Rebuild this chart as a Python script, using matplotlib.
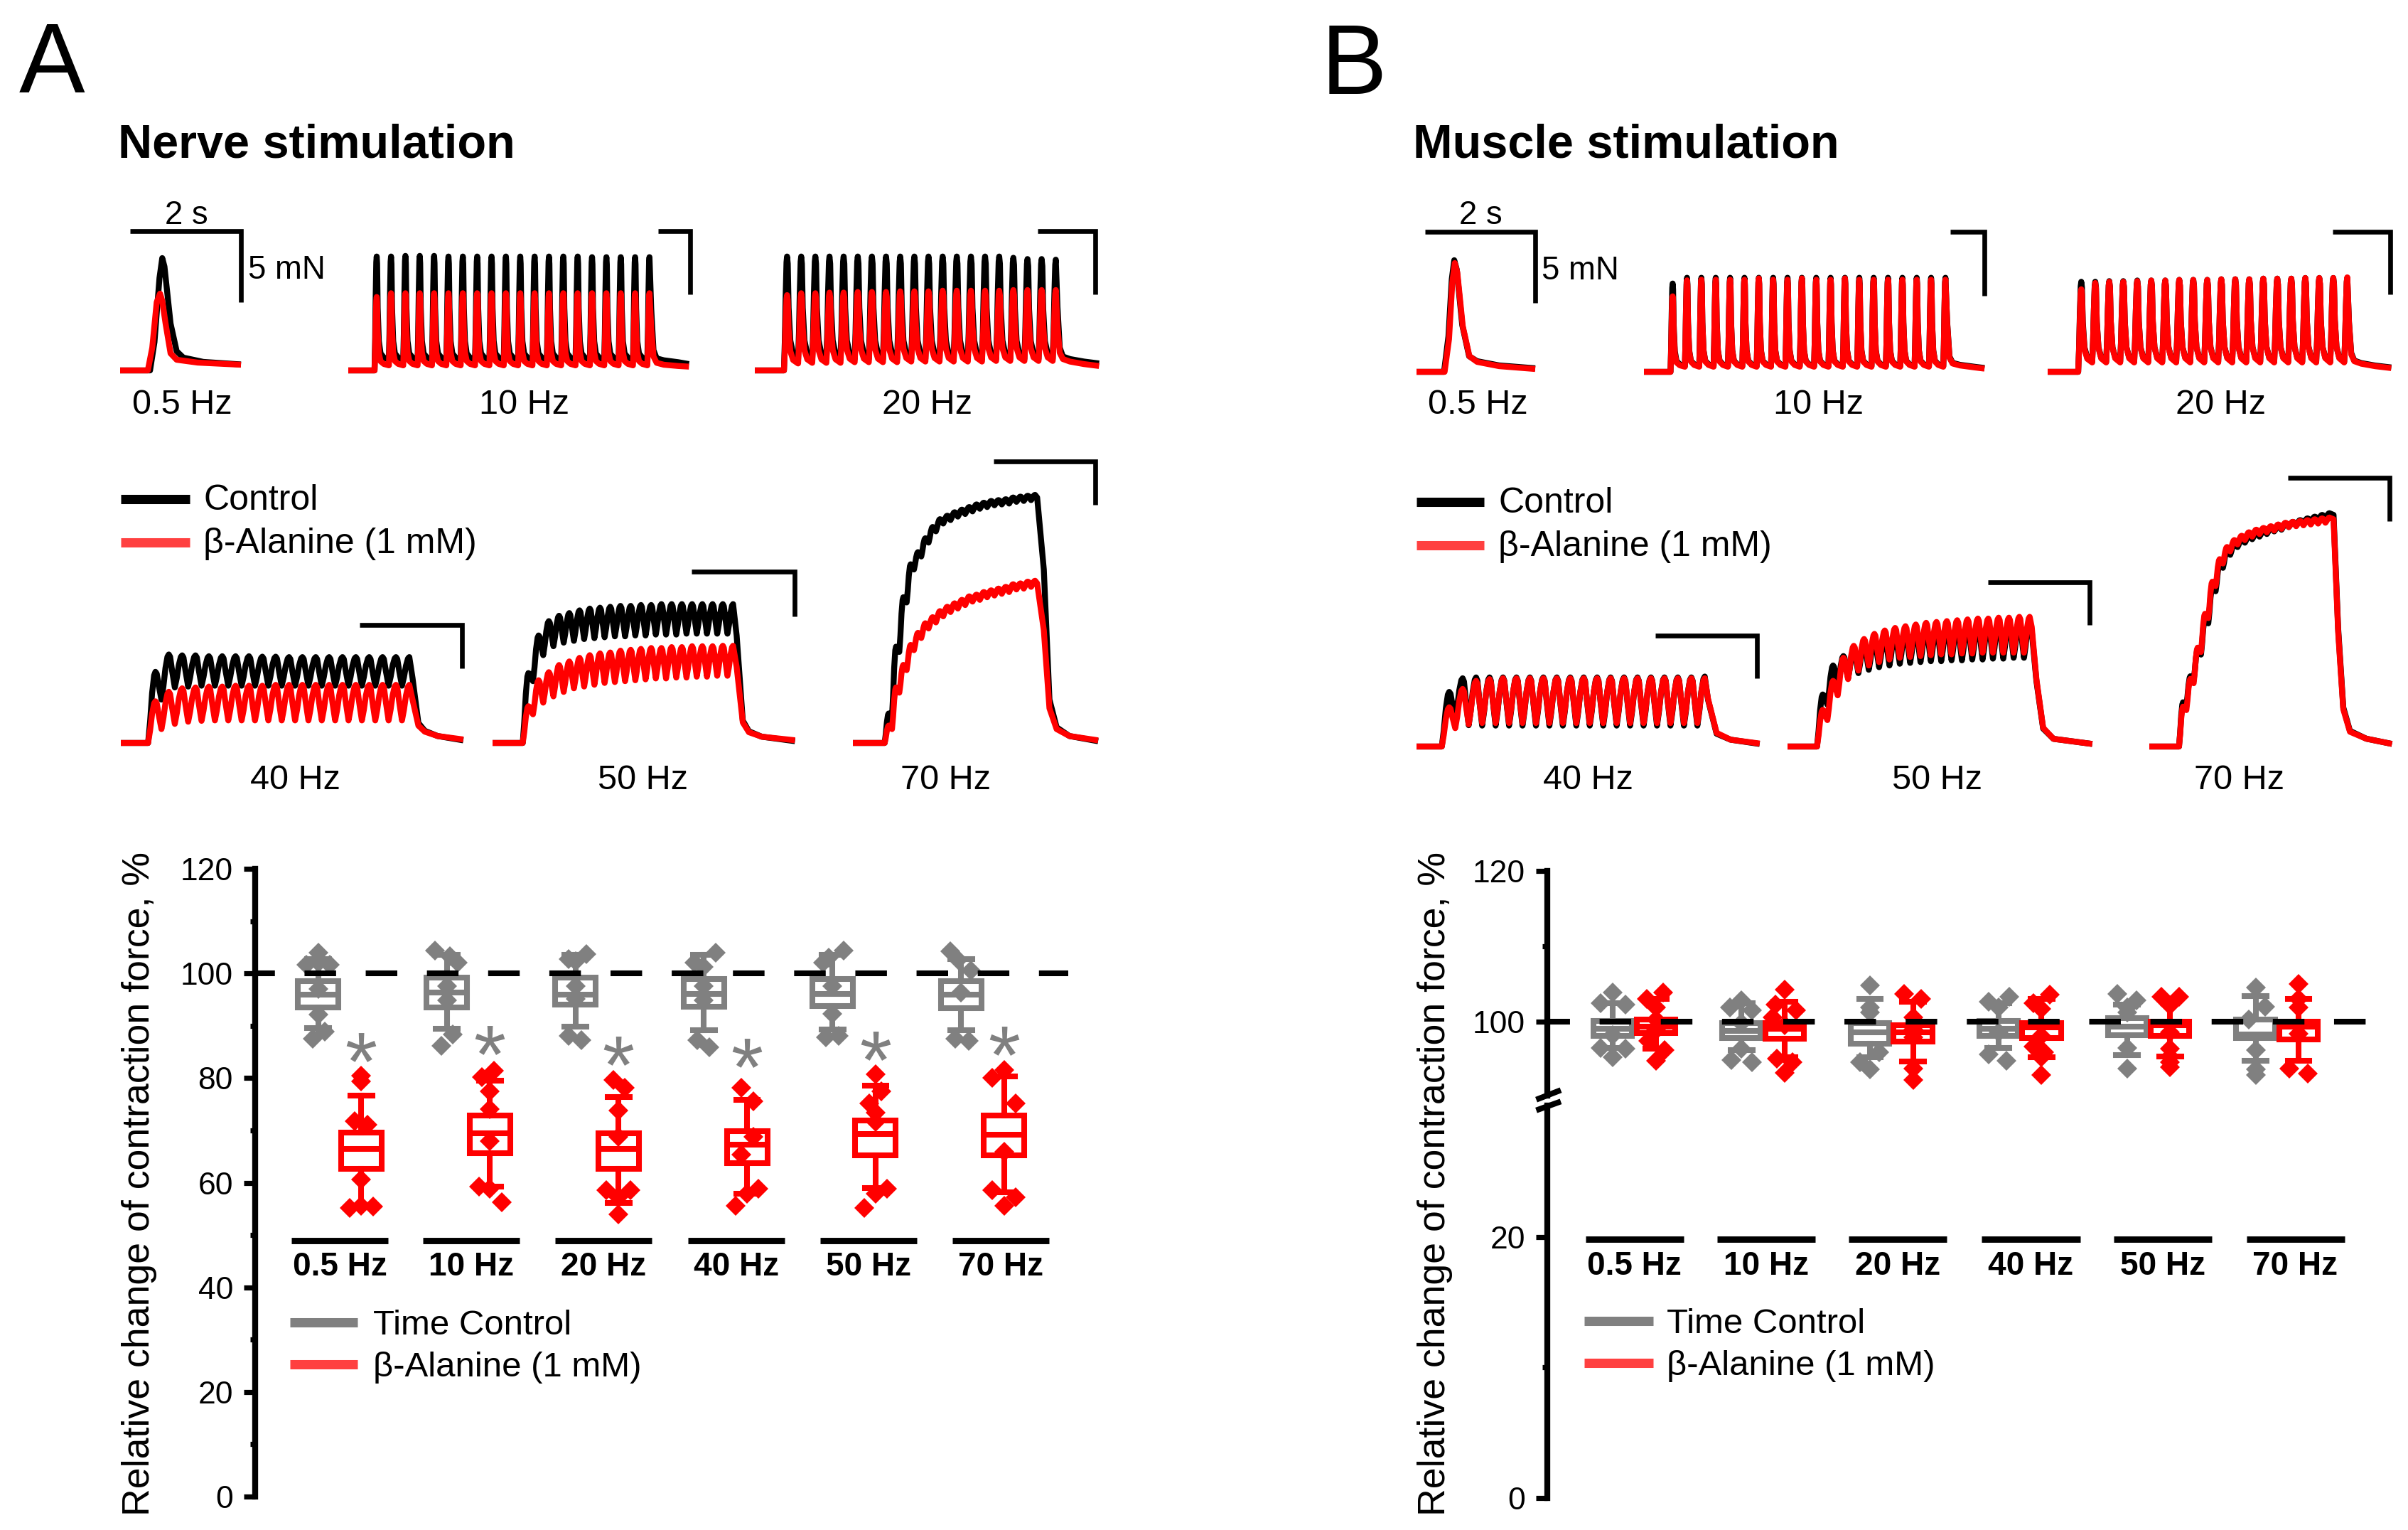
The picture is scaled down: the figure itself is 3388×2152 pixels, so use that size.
import matplotlib
matplotlib.use("Agg")
import matplotlib.pyplot as plt
from matplotlib.lines import Line2D
from matplotlib.textpath import TextPath
from matplotlib.font_manager import FontProperties
from matplotlib.path import Path
from matplotlib.ticker import FixedLocator

plt.rcParams['font.family'] = ['Liberation Sans', 'DejaVu Sans']
plt.rcParams['lines.scale_dashes'] = False

W, H = 3388, 2152
DPI = 200

# ---------------- force traces (mN vs s) ----------------
freq_labels = ['0.5 Hz', '10 Hz', '20 Hz', '40 Hz', '50 Hz', '70 Hz']
periods_s = [2.0, 0.1, 0.05, 0.025, 0.02, 1 / 70]

# single twitches (0.5 Hz): time knots and force
a05_ctrl_t = [0, 0.54, 0.62, 0.71, 0.76, 0.80, 0.91, 1.02, 1.14, 1.5, 2.18]
a05_ctrl_f = [0, 0, 2.0, 6.5, 7.9, 7.3, 3.3, 1.35, 0.9, 0.6, 0.42]
a05_bala_t = [0, 0.50, 0.58, 0.66, 0.72, 0.76, 0.82, 0.91, 1.02, 1.4, 2.18]
a05_bala_f = [0, 0, 1.6, 4.8, 5.4, 4.9, 3.3, 1.2, 0.75, 0.55, 0.4]
b05_ctrl_t = [0, 0.50, 0.58, 0.64, 0.685, 0.73, 0.83, 0.955, 1.1, 1.5, 2.155]
b05_ctrl_f = [0, 0, 2.5, 6.5, 7.85, 7.2, 3.3, 1.1, 0.75, 0.45, 0.25]
b05_bala_t = [0, 0.51, 0.59, 0.65, 0.695, 0.74, 0.84, 0.96, 1.1, 1.5, 2.155]
b05_bala_f = [0, 0, 2.3, 6.3, 7.65, 7.0, 3.2, 1.1, 0.7, 0.4, 0.2]

# trains: onset (s), pulse peaks, inter-pulse troughs, decay after the last peak
a_onset = [None, 0.183, 0.103, 0.051, 0.059, 0.062]
b_onset = [None, 0.185, 0.109, 0.047, 0.057, 0.058]

a10_ctrl_pk = [9.0, 9.0, 9.05, 9.05, 9.05, 9.0, 9.0, 9.0, 9.0, 9.0, 9.0, 9.0, 9.0, 9.0, 9.0, 8.95, 8.95, 8.95, 8.95, 8.95]
a10_ctrl_tr = [0.85, 0.85, 0.85, 0.85, 0.85, 0.85, 0.85, 0.85, 0.85, 0.85, 0.85, 0.85, 0.85, 0.85, 0.85, 0.85, 0.85, 0.85, 0.85]
a10_bala_pk = [5.8, 6.1, 6.1, 6.1, 6.1, 6.1, 6.1, 6.1, 6.1, 6.1, 6.1, 6.1, 6.1, 6.1, 6.1, 6.1, 6.1, 6.1, 6.1, 6.1]
a10_bala_tr = [0.4, 0.4, 0.4, 0.4, 0.4, 0.4, 0.4, 0.4, 0.4, 0.4, 0.4, 0.4, 0.4, 0.4, 0.4, 0.4, 0.4, 0.4, 0.4]
a10_tail_dt = [0.012, 0.028, 0.05, 0.1, 0.2, 0.275]
a10_ctrl_tail = [4.9, 1.6, 0.95, 0.8, 0.65, 0.5]
a10_bala_tail = [3.4, 1.1, 0.6, 0.45, 0.35, 0.3]

a20_ctrl_pk = [9.0, 9.0, 9.0, 9.0, 9.0, 9.0, 9.0, 9.0, 9.0, 9.0, 9.0, 9.0, 9.0, 9.0, 9.0, 9.0, 8.9, 8.8, 8.8, 8.75]
a20_ctrl_tr = [0.9, 0.9, 0.9, 0.9, 0.9, 0.9, 0.9, 0.9, 0.9, 0.9, 0.9, 0.9, 0.9, 0.9, 0.9, 0.9, 0.9, 0.9, 0.9]
a20_bala_pk = [5.95, 6.1, 6.1, 6.15, 6.15, 6.2, 6.2, 6.2, 6.25, 6.25, 6.25, 6.3, 6.3, 6.3, 6.3, 6.3, 6.35, 6.35, 6.35, 6.35]
a20_bala_tr = [0.55, 0.6, 0.6, 0.6, 0.65, 0.65, 0.65, 0.65, 0.7, 0.7, 0.7, 0.7, 0.7, 0.7, 0.75, 0.75, 0.75, 0.75, 0.75]
a20_tail_dt = [0.006, 0.014, 0.025, 0.05, 0.1, 0.153]
a20_ctrl_tail = [5.0, 1.8, 1.1, 0.9, 0.7, 0.55]
a20_bala_tail = [3.5, 1.4, 0.9, 0.7, 0.5, 0.35]

a40_ctrl_pk = [8.2, 10.2, 10.1, 10.1, 10.0, 10.0, 10.0, 10.0, 9.95, 9.95, 9.9, 9.9, 9.9, 9.9, 9.9, 9.9, 9.9, 9.9, 9.9, 9.9]
a40_ctrl_tr = [5.0, 6.4, 6.5, 6.6, 6.6, 6.6, 6.6, 6.6, 6.6, 6.6, 6.6, 6.6, 6.6, 6.6, 6.6, 6.6, 6.6, 6.6, 6.6]
a40_bala_pk = [4.8, 5.9, 6.3, 6.4, 6.5, 6.5, 6.6, 6.6, 6.6, 6.7, 6.7, 6.7, 6.7, 6.7, 6.7, 6.7, 6.7, 6.7, 6.7, 6.7]
a40_bala_tr = [1.6, 2.2, 2.45, 2.55, 2.6, 2.6, 2.6, 2.6, 2.6, 2.6, 2.6, 2.6, 2.6, 2.6, 2.6, 2.6, 2.6, 2.6, 2.6]
a40_tail_dt = [0.006, 0.017, 0.029, 0.053, 0.101]
a40_ctrl_tail = [7.5, 2.3, 1.4, 0.8, 0.3]
a40_bala_tail = [5.0, 2.0, 1.3, 0.8, 0.4]

a50_ctrl_pk = [7.8, 12.0, 13.6, 14.2, 14.5, 14.8, 15.0, 15.1, 15.2, 15.3, 15.3, 15.4, 15.4, 15.5, 15.5, 15.5, 15.5, 15.5, 15.5, 15.5, 15.5]
a50_ctrl_tr = [6.9, 9.8, 10.8, 11.2, 11.4, 11.6, 11.7, 11.8, 11.9, 11.9, 12.0, 12.0, 12.1, 12.1, 12.1, 12.2, 12.2, 12.2, 12.2, 12.2]
a50_bala_pk = [4.1, 7.0, 7.9, 8.7, 9.1, 9.5, 9.8, 10.0, 10.1, 10.3, 10.4, 10.5, 10.6, 10.6, 10.7, 10.7, 10.8, 10.8, 10.8, 10.85, 10.85]
a50_bala_tr = [3.2, 4.5, 5.2, 5.7, 6.1, 6.3, 6.5, 6.7, 6.8, 6.9, 7.0, 7.1, 7.2, 7.2, 7.3, 7.3, 7.4, 7.4, 7.5, 7.5]
a50_tail_dt = [0.007, 0.019, 0.031, 0.056, 0.121]
a50_ctrl_tail = [12.0, 2.5, 1.3, 0.7, 0.2]
a50_bala_tail = [8.5, 2.3, 1.2, 0.7, 0.3]

a70_ctrl_pk = [3.4, 11.1, 16.8, 20.6, 22.0, 23.6, 24.9, 25.8, 26.2, 26.6, 26.9, 27.2, 27.5, 27.7, 27.9, 28.0, 28.1, 28.3, 28.4, 28.5, 28.6]
a70_ctrl_tr = [3.0, 10.5, 16.2, 20.0, 21.5, 23.1, 24.4, 25.3, 25.7, 26.1, 26.4, 26.7, 27.0, 27.2, 27.4, 27.5, 27.6, 27.8, 27.9, 28.0]
a70_bala_pk = [2.0, 6.4, 9.0, 11.3, 12.7, 13.8, 14.5, 15.2, 15.7, 16.1, 16.5, 16.9, 17.1, 17.4, 17.6, 17.8, 18.0, 18.3, 18.4, 18.6, 18.7]
a70_bala_tr = [1.6, 5.8, 8.4, 10.7, 12.1, 13.2, 13.9, 14.6, 15.1, 15.5, 15.9, 16.3, 16.5, 16.8, 17.0, 17.2, 17.4, 17.7, 17.8, 18.0]
a70_tail_dt = [0.004, 0.017, 0.028, 0.042, 0.067, 0.123]
a70_ctrl_tail = [28.3, 20.0, 5.0, 1.8, 0.8, 0.2]
a70_bala_tail = [18.4, 13.0, 4.0, 1.6, 0.8, 0.3]

b10_ctrl_pk = [6.9, 7.35, 7.35, 7.35, 7.35, 7.35, 7.35, 7.35, 7.35, 7.35, 7.35, 7.35, 7.35, 7.35, 7.35, 7.35, 7.35, 7.35, 7.35, 7.35]
b10_ctrl_tr = [0.45, 0.45, 0.45, 0.45, 0.45, 0.45, 0.45, 0.45, 0.45, 0.45, 0.45, 0.45, 0.45, 0.45, 0.45, 0.45, 0.45, 0.45, 0.45]
b10_bala_pk = [5.9, 7.15, 7.2, 7.2, 7.2, 7.2, 7.3, 7.2, 7.2, 7.3, 7.2, 7.2, 7.3, 7.2, 7.2, 7.2, 7.2, 7.2, 7.2, 7.2]
b10_bala_tr = [0.4, 0.4, 0.4, 0.4, 0.4, 0.4, 0.4, 0.4, 0.4, 0.4, 0.4, 0.4, 0.4, 0.4, 0.4, 0.4, 0.4, 0.4, 0.4]
b10_tail_dt = [0.012, 0.028, 0.05, 0.1, 0.2, 0.272]
b10_ctrl_tail = [3.9, 1.2, 0.7, 0.55, 0.4, 0.3]
b10_bala_tail = [3.8, 1.1, 0.65, 0.5, 0.35, 0.25]

b20_ctrl_pk = [7.2, 7.2, 7.25, 7.25, 7.3, 7.3, 7.3, 7.35, 7.35, 7.35, 7.4, 7.4, 7.4, 7.45, 7.45, 7.45, 7.5, 7.5, 7.5, 7.5]
b20_ctrl_tr = [0.8, 0.8, 0.8, 0.8, 0.8, 0.8, 0.8, 0.8, 0.8, 0.8, 0.8, 0.8, 0.8, 0.8, 0.8, 0.8, 0.8, 0.8, 0.8]
b20_bala_pk = [6.6, 7.1, 7.2, 7.2, 7.25, 7.3, 7.3, 7.35, 7.35, 7.35, 7.4, 7.4, 7.4, 7.45, 7.45, 7.45, 7.5, 7.5, 7.5, 7.55]
b20_bala_tr = [0.75, 0.75, 0.75, 0.75, 0.75, 0.75, 0.75, 0.75, 0.75, 0.75, 0.75, 0.75, 0.75, 0.75, 0.75, 0.75, 0.75, 0.75, 0.75]
b20_tail_dt = [0.006, 0.014, 0.025, 0.05, 0.1, 0.157]
b20_ctrl_tail = [4.0, 1.5, 0.9, 0.7, 0.5, 0.35]
b20_bala_tail = [3.9, 1.4, 0.85, 0.65, 0.45, 0.3]

b40_ctrl_pk = [6.4, 8.0, 8.1, 8.1, 8.1, 8.1, 8.1, 8.1, 8.1, 8.1, 8.1, 8.1, 8.1, 8.1, 8.1, 8.1, 8.1, 8.1, 8.1, 8.2]
b40_ctrl_tr = [3.3, 2.5, 2.45, 2.45, 2.45, 2.45, 2.45, 2.45, 2.45, 2.45, 2.45, 2.45, 2.45, 2.45, 2.45, 2.45, 2.45, 2.45, 2.45]
b40_bala_pk = [4.6, 6.75, 7.7, 7.9, 8.0, 8.0, 8.0, 8.0, 8.0, 8.0, 8.0, 8.0, 8.0, 8.0, 8.0, 8.0, 8.0, 8.0, 8.0, 8.0]
b40_bala_tr = [2.15, 2.6, 2.75, 2.75, 2.75, 2.75, 2.75, 2.75, 2.75, 2.75, 2.75, 2.75, 2.75, 2.75, 2.75, 2.75, 2.75, 2.75, 2.75]
b40_tail_dt = [0.006, 0.022, 0.048, 0.102]
b40_ctrl_tail = [5.5, 1.5, 0.8, 0.3]
b40_bala_tail = [5.6, 1.6, 0.8, 0.35]

b50_ctrl_pk = [6.1, 9.5, 10.6, 11.4, 12.0, 12.5, 12.9, 13.2, 13.5, 13.7, 13.9, 14.0, 14.1, 14.2, 14.3, 14.4, 14.5, 14.5, 14.6, 14.6, 14.7]
b50_ctrl_tr = [4.9, 7.0, 8.0, 8.6, 9.0, 9.3, 9.5, 9.7, 9.8, 9.9, 10.0, 10.0, 10.1, 10.1, 10.2, 10.2, 10.3, 10.3, 10.4, 10.4]
b50_bala_pk = [4.3, 7.7, 10.4, 11.8, 12.6, 13.2, 13.6, 13.9, 14.1, 14.3, 14.5, 14.6, 14.7, 14.8, 14.9, 15.0, 15.0, 15.1, 15.1, 15.2, 15.2]
b50_bala_tr = [3.1, 6.0, 7.9, 8.9, 9.5, 9.9, 10.2, 10.4, 10.5, 10.6, 10.7, 10.8, 10.8, 10.9, 10.9, 11.0, 11.0, 11.0, 11.0, 11.0]
b50_tail_dt = [0.004, 0.013, 0.026, 0.046, 0.121]
b50_ctrl_tail = [13.5, 7.7, 2.1, 0.9, 0.3]
b50_bala_tail = [14.0, 7.9, 2.2, 0.9, 0.3]

b70_ctrl_pk = [5.1, 8.1, 11.2, 14.8, 18.4, 21.1, 22.6, 23.4, 23.9, 24.3, 24.6, 24.9, 25.2, 25.4, 25.7, 25.9, 26.1, 26.3, 26.5, 26.7, 26.9]
b70_ctrl_tr = [4.7, 7.6, 10.6, 14.2, 17.9, 20.6, 22.1, 23.0, 23.5, 23.9, 24.2, 24.5, 24.8, 25.0, 25.3, 25.5, 25.7, 25.9, 26.1, 26.3]
b70_bala_pk = [4.6, 7.8, 11.4, 15.3, 19.0, 21.6, 23.0, 23.8, 24.3, 24.7, 25.0, 25.2, 25.4, 25.6, 25.8, 25.9, 26.0, 26.1, 26.2, 26.3, 26.4]
b70_bala_tr = [4.2, 7.3, 10.9, 14.8, 18.5, 21.1, 22.5, 23.3, 23.8, 24.2, 24.5, 24.7, 24.9, 25.1, 25.3, 25.4, 25.5, 25.6, 25.7, 25.8]
b70_tail_dt = [0.008, 0.017, 0.027, 0.040, 0.072, 0.122]
b70_ctrl_tail = [26.7, 13.6, 4.5, 1.8, 0.9, 0.3]
b70_bala_tail = [26.2, 13.2, 4.3, 1.7, 0.9, 0.3]

# pulse profiles read from single cycles (fraction of period, fraction of rise/fall)
twitch_t = [0, 0.04, 0.08, 0.12, 0.15, 0.18, 0.22, 0.3, 0.42, 0.65, 1.0]
twitch_h = [0, 0.25, 0.65, 0.95, 1, 0.93, 0.5, 0.18, 0.06, 0.02, 0]
fast_t = [0, 0.06, 0.12, 0.18, 0.22, 0.27, 0.33, 0.45, 0.65, 1.0]
fast_h = [0, 0.25, 0.65, 0.95, 1, 0.93, 0.5, 0.18, 0.05, 0]
tet_t = [0, 0.15, 0.3, 0.45, 0.55, 0.65, 0.8, 1.0]
tet_h = [0, 0.3, 0.7, 0.95, 1, 0.93, 0.5, 0]

# ---------------- relative force (%) box plots ----------------
nerve_tc_q1 = [93.55, 93.5, 94.1, 93.6, 93.8, 93.4]
nerve_tc_med = [95.9, 96.4, 96.0, 96.1, 96.1, 95.9]
nerve_tc_q3 = [98.5, 99.2, 99.2, 99.0, 99.0, 98.5]
nerve_tc_lo = [89.6, 89.4, 89.8, 89.2, 89.3, 89.2]
nerve_tc_hi = [102.7, 103.5, 103.5, 103.5, 103.5, 102.8]
nerve_ba_q1 = [62.6, 65.6, 62.7, 63.7, 65.2, 65.2]
nerve_ba_med = [66.5, 69.4, 66.5, 67.3, 69.3, 69.2]
nerve_ba_q3 = [69.6, 72.9, 69.4, 69.8, 71.9, 72.8]
nerve_ba_lo = [55.6, 59.3, 56.1, 57.9, 59.0, 58.1]
nerve_ba_hi = [76.7, 79.5, 76.4, 75.8, 78.5, 80.3]

nerve_tc_pts = [[104.0, 102.1, 101.7, 101.7, 97.1, 92.1, 88.9, 87.5],
                [104.4, 103.3, 102.1, 97.6, 94.8, 88.4, 86.2],
                [103.7, 102.8, 102.4, 97.6, 95.1, 88.0, 87.3],
                [104.0, 102.1, 101.2, 97.6, 94.8, 87.3, 85.9],
                [104.4, 103.0, 102.1, 97.6, 92.3, 87.8, 88.0],
                [104.2, 102.6, 100.5, 96.4, 87.5, 87.1]]
nerve_tc_dx = [[0, 0, -0.09, 0.09, 0, 0, 0.05, -0.045],
               [-0.09, 0.025, 0.085, 0, 0, 0.045, -0.04],
               [0.088, -0.055, 0, 0, 0, -0.055, 0.047],
               [0.092, -0.072, 0, 0, 0, -0.05, 0.04],
               [0.088, -0.03, -0.072, 0, 0, -0.05, 0.05],
               [-0.086, -0.025, 0.078, 0, -0.045, 0.057]]
nerve_ba_pts = [[80.5, 79.3, 71.8, 71.1, 60.6, 55.2, 55.6, 55.4],
                [81.4, 80.2, 77.5, 74.1, 68.0, 59.3, 58.8, 56.3],
                [79.6, 78.2, 73.8, 68.8, 58.6, 58.6, 57.2, 54.0],
                [78.2, 75.6, 68.8, 65.4, 58.8, 57.9, 55.6],
                [80.7, 77.5, 75.2, 73.4, 71.6, 58.8, 57.9, 55.2],
                [81.6, 80.0, 75.2, 65.9, 58.6, 57.2, 55.6]]
nerve_ba_dx = [[0, 0, -0.05, 0.05, 0, -0.092, 0, 0.092],
               [0.03, -0.06, 0, 0, 0, -0.082, 0, 0.092],
               [-0.04, 0.05, 0, 0, -0.092, 0.092, 0, 0],
               [-0.045, 0.047, 0.047, -0.045, 0.088, 0, -0.086],
               [0, 0.047, -0.05, 0, 0, 0.088, 0, -0.086],
               [0, -0.092, 0.092, 0, -0.092, 0.092, 0]]
nerve_star_y = [85.9, 87.3, 85.2, 84.8, 86.2, 87.1]

muscle_tc_q1 = [98.1, 97.8, 97.1, 98.1, 98.2, 97.8]
muscle_tc_med = [99.1, 98.8, 98.6, 99.1, 99.3, 98.3]
muscle_tc_q3 = [100.1, 99.8, 99.8, 100.1, 100.5, 100.3]
muscle_tc_lo = [96.5, 96.2, 95.3, 96.5, 95.6, 94.8]
muscle_tc_hi = [102.5, 102.5, 103.0, 102.5, 102.3, 103.4]
muscle_ba_q1 = [98.5, 97.7, 97.4, 97.8, 98.1, 97.6]
muscle_ba_med = [99.3, 99.1, 98.6, 99.2, 99.5, 99.3]
muscle_ba_q3 = [100.3, 99.8, 99.5, 99.8, 100.0, 100.0]
muscle_ba_lo = [96.4, 95.3, 94.7, 95.3, 95.4, 94.8]
muscle_ba_hi = [103.0, 102.6, 102.6, 103.0, 103.0, 103.0]

muscle_tc_pts = [[103.9, 102.5, 102.3, 98.2, 96.5, 96.4, 95.3],
                 [102.8, 101.9, 101.5, 99.8, 96.4, 94.9, 94.6],
                 [104.8, 101.9, 101.2, 95.9, 94.6, 93.7],
                 [103.3, 102.6, 101.9, 98.6, 95.7, 94.8],
                 [103.7, 102.8, 101.9, 101.2, 96.5, 93.8],
                 [104.5, 102.0, 100.3, 96.2, 93.7, 92.9]]
muscle_tc_dx = [[0, -0.096, 0.096, 0, -0.096, 0.096, 0],
                [0, -0.09, 0.08, 0, 0, -0.08, 0.08],
                [0, 0, 0, 0.07, -0.08, 0],
                [0.085, -0.075, 0, 0, -0.075, 0.064],
                [-0.075, 0.075, 0, 0, 0, 0],
                [0, 0.075, -0.053, 0, 0, 0]]
muscle_ba_pts = [[103.9, 103.0, 101.9, 100.3, 98.9, 97.5, 96.2, 94.8],
                 [104.2, 102.3, 101.5, 100.6, 99.5, 95.1, 94.6, 93.2],
                 [103.7, 103.0, 100.6, 99.0, 97.9, 93.8, 92.3],
                 [103.6, 102.5, 101.7, 98.1, 96.7, 95.9, 95.3, 92.9],
                 [103.3, 103.3, 102.2, 98.6, 96.4, 95.4, 94.6, 94.0],
                 [105.0, 103.0, 101.9, 98.4, 93.8, 93.1]]
muscle_ba_dx = [[0.057, -0.07, 0, 0, 0, -0.06, 0.068, 0],
                [0, -0.07, 0.09, -0.09, 0, -0.06, 0.06, 0],
                [-0.07, 0.064, 0, 0, 0, 0, 0],
                [0.064, -0.064, 0, 0, -0.064, 0.02, 0, 0],
                [-0.07, 0.07, 0, 0, 0, 0, 0, 0],
                [0, 0, 0, 0, -0.07, 0.07]]

GRAY, RED = '#808080', '#FF0000'
TRACE_LW = 3.0
BOX_LW = 2.9

fig = plt.figure(figsize=(W / DPI, H / DPI), dpi=DPI)


def box(l, t, r, b):
    return [l / W, 1 - b / H, (r - l) / W, (b - t) / H]


def ftext(x, y, s, **kw):
    fig.text(x / W, 1 - y / H, s, **kw)


def fline(x1, y1, x2, y2, **kw):
    fig.add_artist(Line2D([x1 / W, x2 / W], [1 - y1 / H, 1 - y2 / H],
                          transform=fig.transFigure, **kw))


def train(onset, period, peaks, troughs, sh_t, sh_h, tail_dt, tail_f):
    ts, fs = [0.0, onset], [0.0, 0.0]
    ipk = sh_h.index(1)
    n = len(peaks)
    for k in range(n):
        start = troughs[k - 1] if k else 0.0
        for j in range(1, len(sh_t)):
            if j <= ipk:
                v = start + sh_h[j] * (peaks[k] - start)
            elif k == n - 1:
                break
            else:
                v = troughs[k] + sh_h[j] * (peaks[k] - troughs[k])
            ts.append(onset + (k + sh_t[j]) * period)
            fs.append(v)
    tpk = onset + (n - 1 + sh_t[ipk]) * period
    ts += [tpk + d for d in tail_dt]
    fs += list(tail_f)
    return ts, fs


def trace_panel(geom, bar, curves):
    left, right, base, px_mn, px_s = geom
    x1, x2, ytop, ybot = bar
    ax = fig.add_axes(box(left, ytop, right, base))
    ax.set_xlim(0, (right - left) / px_s)
    ax.set_ylim(0, (base - ytop) / px_mn)
    ax.axis('off')
    for (t, f), c in curves:
        ax.plot(t, f, color=c, lw=TRACE_LW, clip_on=False, solid_joinstyle='round',
                solid_capstyle='butt')
    tb1, tb2 = (x1 - left) / px_s, (x2 - left) / px_s
    fb1, fb2 = (base - ytop) / px_mn, (base - ybot) / px_mn
    ax.plot([tb1, tb2, tb2], [fb1, fb1, fb2], color='k', lw=2.4,
            clip_on=False, solid_joinstyle='miter', solid_capstyle='butt')
    return ax


# ---- layout of the trace insets: left px, right px, baseline px, px per mN, px per s
a_geom = [(169, 339, 521, 20.0, 78.0), (490, 973, 521, 17.8, 202.0), (1062, 1544, 521, 17.8, 398.0),
          (170, 653, 1045, 12.2, 752.0), (693, 1121, 1045, 12.6, 720.0), (1200, 1546, 1045, 12.2, 721.0)]
a_bars = [(183, 339, 325, 425), (926, 971, 325, 414), (1460, 1541, 325, 414),
          (506, 650, 879, 940), (973, 1118, 804, 867), (1398, 1541, 649, 710)]
b_geom = [(1993, 2160, 523, 20.0, 77.5), (2313, 2795, 523, 18.0, 202.0), (2881, 3365, 523, 17.6, 394.0),
          (1993, 2475, 1050, 12.0, 757.0), (2515, 2942, 1050, 12.0, 728.0), (3024, 3365, 1050, 12.2, 721.0)]
b_bars = [(2005, 2160, 326, 426), (2744, 2792, 326, 416), (3282, 3363, 326, 414),
          (2329, 2472, 894, 954), (2797, 2940, 819, 879), (3219, 3362, 672, 733)]

a_trains = [None,
            (a10_ctrl_pk, a10_ctrl_tr, a10_ctrl_tail, a10_bala_pk, a10_bala_tr, a10_bala_tail, a10_tail_dt),
            (a20_ctrl_pk, a20_ctrl_tr, a20_ctrl_tail, a20_bala_pk, a20_bala_tr, a20_bala_tail, a20_tail_dt),
            (a40_ctrl_pk, a40_ctrl_tr, a40_ctrl_tail, a40_bala_pk, a40_bala_tr, a40_bala_tail, a40_tail_dt),
            (a50_ctrl_pk, a50_ctrl_tr, a50_ctrl_tail, a50_bala_pk, a50_bala_tr, a50_bala_tail, a50_tail_dt),
            (a70_ctrl_pk, a70_ctrl_tr, a70_ctrl_tail, a70_bala_pk, a70_bala_tr, a70_bala_tail, a70_tail_dt)]
b_trains = [None,
            (b10_ctrl_pk, b10_ctrl_tr, b10_ctrl_tail, b10_bala_pk, b10_bala_tr, b10_bala_tail, b10_tail_dt),
            (b20_ctrl_pk, b20_ctrl_tr, b20_ctrl_tail, b20_bala_pk, b20_bala_tr, b20_bala_tail, b20_tail_dt),
            (b40_ctrl_pk, b40_ctrl_tr, b40_ctrl_tail, b40_bala_pk, b40_bala_tr, b40_bala_tail, b40_tail_dt),
            (b50_ctrl_pk, b50_ctrl_tr, b50_ctrl_tail, b50_bala_pk, b50_bala_tr, b50_bala_tail, b50_tail_dt),
            (b70_ctrl_pk, b70_ctrl_tr, b70_ctrl_tail, b70_bala_pk, b70_bala_tr, b70_bala_tail, b70_tail_dt)]
shapes = [None, (twitch_t, twitch_h), (fast_t, fast_h), (tet_t, tet_h), (tet_t, tet_h), (tet_t, tet_h)]

for geom, bars, trains, onsets, single in (
        (a_geom, a_bars, a_trains, a_onset, ((a05_ctrl_t, a05_ctrl_f), (a05_bala_t, a05_bala_f))),
        (b_geom, b_bars, b_trains, b_onset, ((b05_ctrl_t, b05_ctrl_f), (b05_bala_t, b05_bala_f)))):
    trace_panel(geom[0], bars[0], [(single[0], 'k'), (single[1], RED)])
    for i in range(1, 6):
        cpk, ctr, ctl, bpk, btr, btl, dt = trains[i]
        sh_t, sh_h = shapes[i]
        ctrl = train(onsets[i], periods_s[i], cpk, ctr, sh_t, sh_h, dt, ctl)
        bala = train(onsets[i], periods_s[i], bpk, btr, sh_t, sh_h, dt, btl)
        trace_panel(geom[i], bars[i], [(ctrl, 'k'), (bala, RED)])

# ---- trace texts
a_lab_xy = [(256, 582), (737, 582), (1304, 582), (415, 1110), (904, 1110), (1330, 1110)]
b_lab_xy = [(2079, 582), (2558, 582), (3124, 582), (2234, 1110), (2725, 1110), (3150, 1110)]
for xy_list in (a_lab_xy, b_lab_xy):
    for (x, y), lab in zip(xy_list, freq_labels):
        ftext(x, y, lab, fontsize=17.5, ha='center', va='baseline')

ftext(262, 315, '2 s', fontsize=16.4, ha='center', va='baseline')
ftext(349, 392, '5 mN', fontsize=16.4, ha='left', va='baseline')
ftext(2083, 315, '2 s', fontsize=16.4, ha='center', va='baseline')
ftext(2169, 393, '5 mN', fontsize=16.4, ha='left', va='baseline')

ftext(27, 130, 'A', fontsize=50, ha='left', va='baseline')
ftext(1859, 132, 'B', fontsize=50, ha='left', va='baseline')
ftext(166, 222, 'Nerve stimulation', fontsize=24, fontweight='bold', ha='left', va='baseline')
ftext(1988, 222, 'Muscle stimulation', fontsize=24, fontweight='bold', ha='left', va='baseline')

for (lx1, lx2, ly, tx) in ((170, 267, 702, 286), (1993, 2088, 706, 2108)):
    fline(lx1, ly, lx2, ly, color='k', lw=4.7, solid_capstyle='butt')
    fline(lx1, ly + 61, lx2, ly + 61, color='#FF4040', lw=4.7, solid_capstyle='butt')
    ftext(tx, ly + 15, 'Control', fontsize=18, ha='left', va='baseline')
    ftext(tx, ly + 76, 'β-Alanine (1 mM)', fontsize=18, ha='left', va='baseline')

# ---- asterisk marker built from the font glyph (closepoly vertices moved to centre)
_tp = TextPath((0, 0), '*', size=1, prop=FontProperties(family='Liberation Sans'))
_ext = _tp.get_extents()
_v = _tp.vertices - [(_ext.x0 + _ext.x1) / 2, (_ext.y0 + _ext.y1) / 2]
_c = _tp.codes
if _c is not None:
    _v[_c == Path.CLOSEPOLY] = 0.0
star = Path(_v, _c)


def style_axis(ax, majors, minors, bounds):
    for s in ('top', 'right', 'bottom'):
        ax.spines[s].set_visible(False)
    ax.spines['left'].set_linewidth(3.0)
    ax.spines['left'].set_bounds(*bounds)
    ax.yaxis.set_major_locator(FixedLocator(majors))
    ax.yaxis.set_minor_locator(FixedLocator(minors))
    ax.tick_params(axis='y', which='major', direction='out', length=5.8, width=2.6,
                   labelsize=16, pad=5.4)
    ax.tick_params(axis='y', which='minor', direction='out', length=2.6, width=2.6)
    ax.set_xticks([])


def draw_groups(ax, tc, ba, widths):
    gx = [i - 0.1675 for i in range(6)]
    rx = [i + 0.1675 for i in range(6)]
    for xs, st, pts, dxs, c in ((gx, tc[0], tc[1], tc[2], GRAY), (rx, ba[0], ba[1], ba[2], RED)):
        stats = [dict(q1=a, med=b, q3=d, whislo=e, whishi=f, fliers=[]) for a, b, d, e, f in zip(*st)]
        lp = dict(color=c, linewidth=BOX_LW)
        ax.bxp(stats, positions=xs, widths=widths, capwidths=0.17, showfliers=False,
               patch_artist=True, manage_ticks=False,
               boxprops=dict(facecolor='white', edgecolor=c, linewidth=BOX_LW),
               whiskerprops=lp, capprops=lp, medianprops=lp, zorder=2)
        for x0, p, d in zip(xs, pts, dxs):
            ax.plot([x0 + v for v in d], p, 'D', ms=7.0, mew=0, color=c, ls='none',
                    zorder=3, clip_on=False)


bar_centers = [0.0, 1.025, 2.05, 3.085, 4.113, 5.143]

# ---- panel A summary
axA = fig.add_axes(box(359, 1222, 1503, 2105))
axA.set_xlim(-0.658, 5.666)
axA.set_ylim(0, 120)
axA.patch.set_alpha(0)
style_axis(axA, [0, 20, 40, 60, 80, 100, 120], list(range(10, 120, 20)), (0, 120))
draw_groups(axA,
            ((nerve_tc_q1, nerve_tc_med, nerve_tc_q3, nerve_tc_lo, nerve_tc_hi), nerve_tc_pts, nerve_tc_dx),
            ((nerve_ba_q1, nerve_ba_med, nerve_ba_q3, nerve_ba_lo, nerve_ba_hi), nerve_ba_pts, nerve_ba_dx),
            0.315)
axA.plot([i + 0.1675 for i in range(6)], nerve_star_y, marker=star, ms=15, mew=0,
         color=GRAY, ls='none', zorder=3)
axA.plot([-0.658, 5.666], [100, 100], color='k', lw=2.9, ls=(6, (16, 15)), zorder=5, clip_on=False)
for c, lab in zip(bar_centers, freq_labels):
    axA.plot([c - 0.376, c + 0.376], [48.9, 48.9], color='k', lw=3.2, solid_capstyle='butt')
    ftext(478 + c * 180.9, 1794, lab, fontsize=16.5, fontweight='bold', ha='center', va='baseline')
fig.text(210 / W, 1 - 1665 / H, 'Relative change of contraction force, %', fontsize=19.3,
         rotation=90, rotation_mode='anchor', ha='center', va='baseline')

# ---- panel B summary (broken axis)
axBt = fig.add_axes(box(2177, 1225, 3334, 1541))
axBb = fig.add_axes(box(2177, 1555, 3334, 2107))
for ax in (axBt, axBb):
    ax.set_xlim(-0.678, 5.72)
    ax.patch.set_alpha(0)
axBt.set_ylim(90.19, 120)
axBb.set_ylim(0, 30.08)
style_axis(axBt, [100, 120], [110], (90.19, 120))
style_axis(axBb, [0, 20], [10], (0, 30.08))
draw_groups(axBt,
            ((muscle_tc_q1, muscle_tc_med, muscle_tc_q3, muscle_tc_lo, muscle_tc_hi), muscle_tc_pts, muscle_tc_dx),
            ((muscle_ba_q1, muscle_ba_med, muscle_ba_q3, muscle_ba_lo, muscle_ba_hi), muscle_ba_pts, muscle_ba_dx),
            0.30)
axBt.plot([-0.678, 5.72], [100, 100], color='k', lw=2.9, ls=(4.5, (16, 15)), zorder=5, clip_on=False)
for c, lab in zip(bar_centers, freq_labels):
    axBb.plot([c - 0.382, c + 0.382], [19.84, 19.84], color='k', lw=3.2, solid_capstyle='butt')
    ftext(2299.5 + c * 180.8, 1793, lab, fontsize=16.5, fontweight='bold', ha='center', va='baseline')
fig.text(2033 / W, 1 - 1665 / H, 'Relative change of contraction force, %', fontsize=19.3,
         rotation=90, rotation_mode='anchor', ha='center', va='baseline')
# break marks
fline(2161.5, 1546.7, 2196, 1533.3, color='k', lw=2.9, solid_capstyle='butt')
fline(2161.5, 1561.7, 2196, 1549.3, color='k', lw=2.9, solid_capstyle='butt')

# ---- summary legends
for (lx1, lx2, ly, tx) in ((408, 503, 1860, 525), (2229, 2326, 1858, 2345)):
    fline(lx1, ly, lx2, ly, color=GRAY, lw=4.7, solid_capstyle='butt')
    fline(lx1, ly + 59, lx2, ly + 59, color='#FF4040', lw=4.7, solid_capstyle='butt')
    ftext(tx, ly + 17, 'Time Control', fontsize=17.7, ha='left', va='baseline')
    ftext(tx, ly + 76, 'β-Alanine (1 mM)', fontsize=17.7, ha='left', va='baseline')

fig.savefig('out.png', dpi=DPI)
